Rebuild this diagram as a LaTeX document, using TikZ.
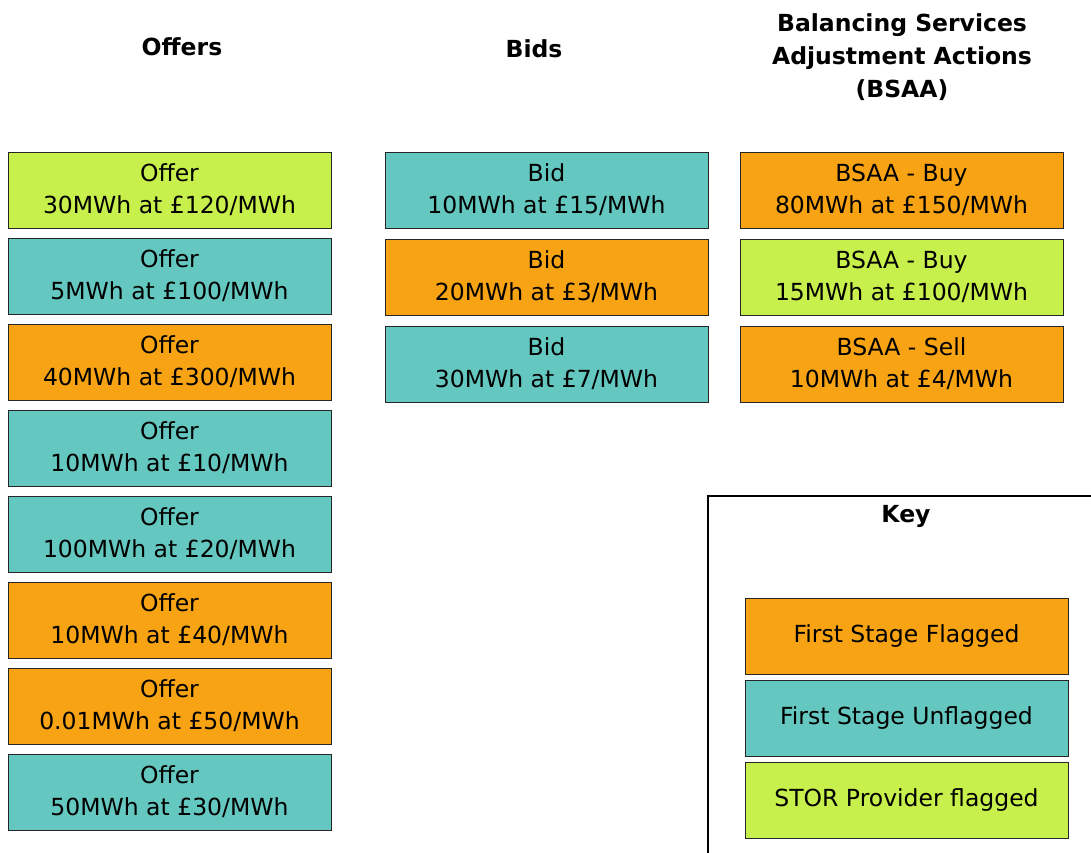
\documentclass[tikz,border=0pt]{standalone}
\usepackage{fontspec}
\setmainfont{DejaVu Sans}
\usetikzlibrary{positioning}
\definecolor{flagorange}{RGB}{248,163,20}
\definecolor{unflagteal}{RGB}{100,199,192}
\definecolor{storlime}{RGB}{200,240,76}
\tikzset{
  entry/.style={draw=black!85, line width=0.9pt, minimum width=323pt, minimum height=76pt,
    inner sep=0pt, outer sep=0pt, align=center, font=\fontsize{23.5}{32}\selectfont},
  flagged/.style={entry, fill=flagorange},
  unflagged/.style={entry, fill=unflagteal},
  stor/.style={entry, fill=storlime},
  colhead/.style={align=center, font=\fontsize{23.5}{33}\selectfont\bfseries},
}

\begin{document}
\begin{tikzpicture}[x=1pt, y=-1pt, node distance=10pt]
        \useasboundingbox (0,0) rectangle (1091,853);

        % column headings
        \node (hOffers) [colhead] at (182,47) {Offers};
        \node (hBids) [colhead] at (534,49) {Bids};
        \node (hBsaa) [colhead] at (902,57) {Balancing Services\\Adjustment Actions\\(BSAA)};

        % offers
        \node (o1) [stor, anchor=north west] at (8,152) {Offer\\30MWh at £120/MWh};
        \node (o2) [unflagged, below=of o1] {Offer\\5MWh at £100/MWh};
        \node (o3) [flagged, below=of o2] {Offer\\40MWh at £300/MWh};
        \node (o4) [unflagged, below=of o3] {Offer\\10MWh at £10/MWh};
        \node (o5) [unflagged, below=of o4] {Offer\\100MWh at £20/MWh};
        \node (o6) [flagged, below=of o5] {Offer\\10MWh at £40/MWh};
        \node (o7) [flagged, below=of o6] {Offer\\0.01MWh at £50/MWh};
        \node (o8) [unflagged, below=of o7] {Offer\\50MWh at £30/MWh};

        % bids
        \node (b1) [unflagged, anchor=north west] at (385,152) {Bid\\10MWh at £15/MWh};
        \node (b2) [flagged, below=11pt of b1] {Bid\\20MWh at £3/MWh};
        \node (b3) [unflagged, below=11pt of b2] {Bid\\30MWh at £7/MWh};

        % balancing services adjustment actions
        \node (s1) [flagged, anchor=north west] at (740,152) {BSAA - Buy\\80MWh at £150/MWh};
        \node (s2) [stor, below=11pt of s1] {BSAA - Buy\\15MWh at £100/MWh};
        \node (s3) [flagged, below=11pt of s2] {BSAA - Sell\\10MWh at £4/MWh};

        % key
        \draw[line width=1.5pt] (708,853) |- (1091,496);
        \node (key) [colhead] at (906,516) {Key};
        \node (k1) [flagged, anchor=north west] at (745,598) {First Stage Flagged};
        \node (k2) [unflagged, below=6pt of k1] {First Stage Unflagged};
        \node (k3) [stor, below=6pt of k2] {STOR Provider flagged};
    \end{tikzpicture}
\end{document}
